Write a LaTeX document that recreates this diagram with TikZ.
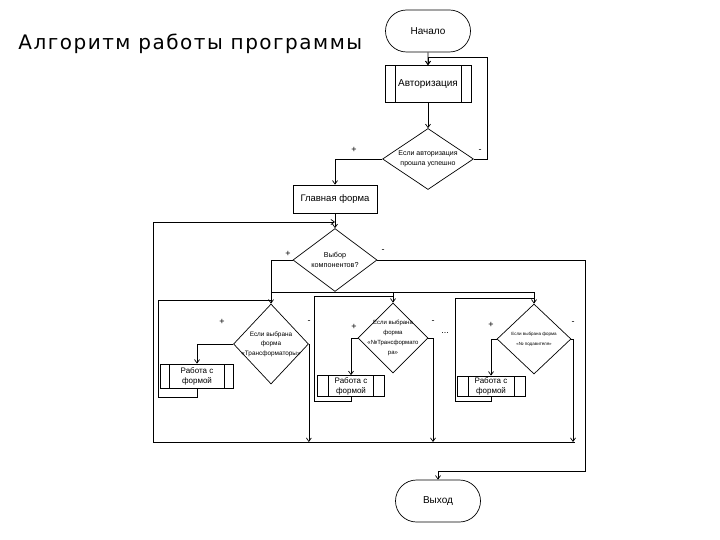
\documentclass[tikz,border=0pt]{standalone}
\usepackage{fontspec}
\setmainfont{Liberation Sans}
\newfontfamily\titlefont[LetterSpace=7.5]{DejaVu Sans}
\usetikzlibrary{shapes.geometric,shapes.misc,arrows.meta}
\begin{document}
\begin{tikzpicture}[x=1pt,y=-1pt,line width=0.7pt,
  >={Straight Barb[length=3.5pt,width=5pt]},
  term/.style={draw,rounded rectangle,minimum width=85pt,minimum height=42pt,inner sep=0pt,font=\fontsize{10}{11}\selectfont},
  predef/.style={draw,rectangle,inner sep=0pt,align=center,
    path picture={\draw ([xshift=#1]path picture bounding box.north west) -- ([xshift=#1]path picture bounding box.south west);
                  \draw ([xshift=-#1]path picture bounding box.north east) -- ([xshift=-#1]path picture bounding box.south east);}},
  proc/.style={draw,rectangle,inner sep=0pt,minimum width=84pt,minimum height=28pt,font=\fontsize{9.5}{11}\selectfont},
  dec/.style={draw,diamond,inner sep=0pt},
  dectext/.style={align=center,inner sep=0pt},
  sign/.style={font=\fontsize{9}{9}\selectfont,inner sep=0pt}]
\useasboundingbox (0,0) rectangle (720,540);

\node[anchor=west,inner sep=0pt,font=\titlefont\fontsize{20}{23}\selectfont] (title) at (18,44) {Алгоритм работы программы};

\node[term] (start) at (428,31) {Начало};
\node[predef=10pt,minimum width=86pt,minimum height=37pt,font=\fontsize{10}{12}\selectfont] (auth) at (428,84) {Авторизация};
\node[dec,minimum width=91pt,minimum height=61pt,
  label={[dectext,font=\fontsize{7}{10}\selectfont]center:Если авторизация\\прошла успешно}] (d1) at (428,159) {};
\node[proc] (main) at (335,199) {Главная форма};
\node[dec,minimum width=84pt,minimum height=63pt,
  label={[dectext,font=\fontsize{7.2}{10}\selectfont]center:Выбор\\компонентов?}] (d2) at (335,260) {};

\node[dec,minimum width=75pt,minimum height=80pt,
  label={[dectext,font=\fontsize{6.4}{9.5}\selectfont]center:Если выбрана\\форма\\«Трансформаторы»}] (dA) at (271,344) {};
\node[predef=9pt,minimum width=73pt,minimum height=24pt,font=\fontsize{8}{10}\selectfont] (wA) at (197,376) {Работа с\\формой};

\node[dec,minimum width=70pt,minimum height=70pt,
  label={[dectext,font=\fontsize{6}{10}\selectfont]center:Если выбрана\\форма\\«№Трансформато\\ра»}] (dB) at (393,338) {};
\node[predef=11pt,minimum width=67pt,minimum height=21pt,font=\fontsize{8}{10}\selectfont] (wB) at (351,386) {Работа с\\формой};

\node[dec,minimum width=74pt,minimum height=70pt,
  label={[dectext,font=\fontsize{4.5}{10}\selectfont]center:Если выбрана форма\\«№ подавителя»}] (dC) at (534,339) {};
\node[predef=11pt,minimum width=68pt,minimum height=20pt,font=\fontsize{8}{10}\selectfont] (wC) at (491,386) {Работа с\\формой};

\node[term] (end) at (438,501) {Выход};

% signs
\node[sign] (p1) at (354,150) {+};
\node[sign] (m1) at (480,151) {-};
\node[sign] (p2) at (288,254) {+};
\node[sign] (m2) at (383,251) {-};
\node[sign] (pA) at (222,322) {+};
\node[sign] (mA) at (309,322) {-};
\node[sign] (pB) at (354,327) {+};
\node[sign] (mB) at (433,322) {-};
\node[sign] (dots) at (445,333) {...};
\node[sign] (pC) at (491,325) {+};
\node[sign] (mC) at (573,323) {-};

% coordinates
\coordinate (r1) at (487,57);
\coordinate (botL) at (153,442);
\coordinate (botR) at (575,442);
\coordinate (j2) at (335,222);
\coordinate (busA) at (271,292);
\coordinate (exitc) at (585,471);
\coordinate (dropB) at (433,442);
\coordinate (dropC) at (573,442);
\coordinate (lA) at (158,397);
\coordinate (tA) at (271,300);
\coordinate (lB) at (314,401);
\coordinate (tB) at (393,296);
\coordinate (lC) at (455,401);
\coordinate (tC) at (534,298);

% connectors
\draw[->] (start) -- (auth);
\draw[->] (auth) -- (d1);
\draw[->] (d1.west) -| (main.north);
\draw[->] (d1.east) -| (r1) -| (auth.north);
\draw[->] (main) -- (d2);
\draw[->] (botL) |- (j2);
\draw[->] (d2.west) -| (dA.north);
\draw[->] (busA) -| (dB.north);
\draw[->] (busA) -| (dC.north);
\draw[->] (d2.east) -| (exitc) -| (end.north);

\draw[->] (dA.west) -| (wA.north);
\draw[->] (dB.west) -| (wB.north);
\draw[->] (dC.west) -| (wC.north);

\draw[->] (dA.east) -| (dA.east |- botL);
\draw[->] (dB.east) -| (dropB);
\draw[->] (dC.east) -| (dropC);
\draw (botL) -- (botR);

\draw (wA.south) |- (lA) |- (tA);
\draw (wB.south) |- (lB) |- (tB);
\draw (wC.south) |- (lC) |- (tC);
\end{tikzpicture}
\end{document}
